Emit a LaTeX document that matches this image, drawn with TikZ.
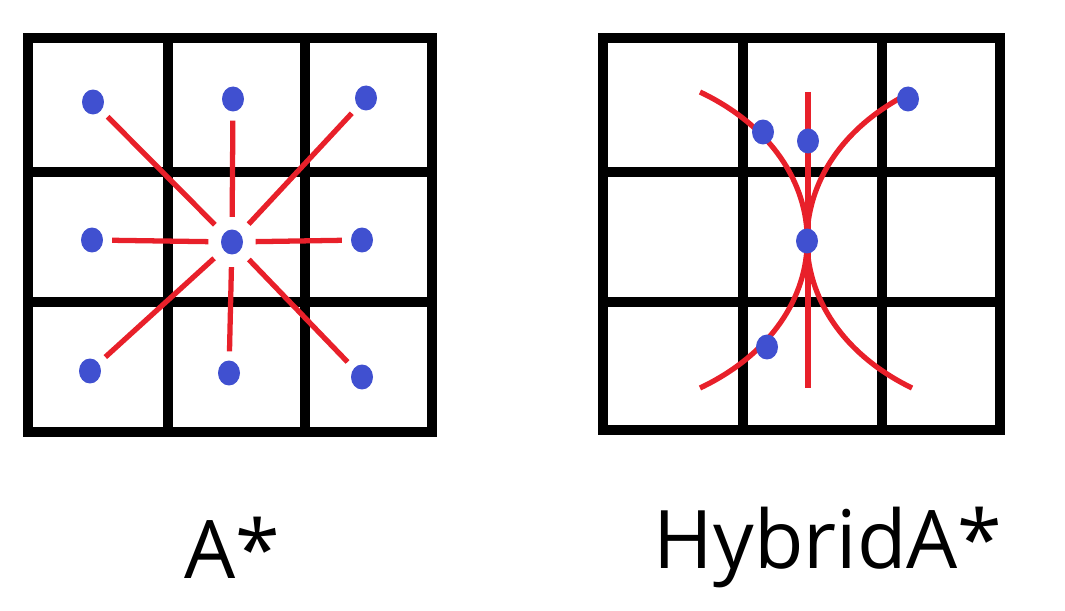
\documentclass[tikz,border=0pt]{standalone}
\usepackage{fontspec}
\setmainfont{Open Sans}
\usetikzlibrary{positioning,shapes.geometric}
\definecolor{dotblue}{RGB}{64,80,208}
\definecolor{linered}{RGB}{232,32,42}

\begin{document}
\begin{tikzpicture}[x=0.02cm,y=-0.02cm]
\tikzset{grid/.style={line width=5.5pt,line cap=rect}}
\tikzset{dot/.style={ellipse,fill=dotblue,minimum width=0.44cm,minimum height=0.5cm,inner sep=0pt}}
\tikzset{ray/.style={linered,line width=3pt,shorten <=7pt,shorten >=5pt}}
\tikzset{curve/.style={linered,line width=3pt}}
\useasboundingbox (0,0) rectangle (1065,611);
% left grid
\draw[grid] (28,38) rectangle (432,432);
\foreach \x in {168,305} \draw[grid] (\x,38) -- (\x,432);
\foreach \y in {172,302} \draw[grid] (28,\y) -- (432,\y);
% right grid
\draw[grid] (603,38) rectangle (1000,430);
\foreach \x in {743,882} \draw[grid] (\x,38) -- (\x,430);
\foreach \y in {172,302} \draw[grid] (603,\y) -- (1000,\y);
% A* nodes
\node[dot] (c)  at (232,242) {};
\node[dot] (nw) at (93,102)  {};
\node[dot] (n)  at (233,99)  {};
\node[dot] (ne) at (366,98)  {};
\node[dot] (w)  at (92,240)  {};
\node[dot] (e)  at (362,240) {};
\node[dot] (sw) at (90,371)  {};
\node[dot] (s)  at (229,373) {};
\node[dot] (se) at (362,377) {};
\foreach \d in {nw,n,ne,w,e,sw,s,se}
  \path (c) edge[ray] (\d);
% HybridA* curves
\coordinate (ltop) at (700,92);
\coordinate (lbot) at (700,388);
\coordinate (rtop) at (912,92);
\coordinate (rbot) at (912,388);
\coordinate (mtop) at (808,92);
\coordinate (mbot) at (808,388);
\draw[curve] (ltop) .. controls (843,160) and (843,320) .. (lbot);
\draw[curve] (rtop) .. controls (772,160) and (772,320) .. (rbot);
\draw[curve] (mtop) -- (mbot);
\node[dot] (h1) at (763,132) {};
\node[dot] (h2) at (808,141) {};
\node[dot] (h3) at (908,99)  {};
\node[dot] (h4) at (807,241) {};
\node[dot] (h5) at (767,347) {};
% labels
\node[font=\fontsize{46}{50}\selectfont] (la) at (232,548) {A*};
\node[font=\fontsize{46}{50}\selectfont] (lh) at (828,548) {HybridA*};
\end{tikzpicture}
\end{document}
